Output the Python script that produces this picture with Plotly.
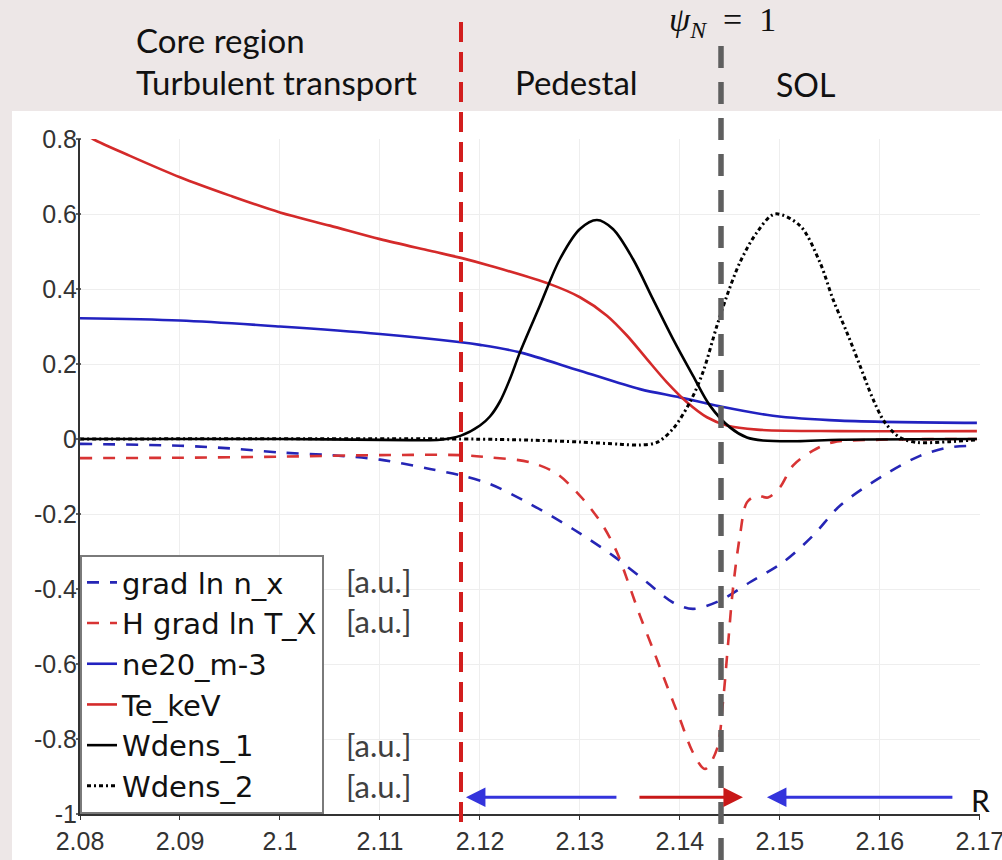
import plotly.graph_objects as go

# ---------------- data ----------------
x_grad_n = [2.080, 2.090, 2.095, 2.100, 2.105, 2.110, 2.115, 2.1181, 2.121, 2.125,
            2.1293, 2.1333, 2.1367, 2.1393, 2.1413, 2.1440, 2.1470, 2.1503, 2.1533,
            2.1560, 2.1603, 2.1640, 2.1670, 2.1697]
grad_ln_n = [-0.013, -0.018, -0.025, -0.036, -0.043, -0.055, -0.080, -0.097, -0.120, -0.173,
             -0.240, -0.311, -0.382, -0.436, -0.453, -0.431, -0.382, -0.329, -0.258,
             -0.178, -0.098, -0.045, -0.022, -0.018]

x_grad_T = [2.080, 2.090, 2.100, 2.110, 2.1181, 2.121, 2.125, 2.1277, 2.1303, 2.1323,
            2.1337, 2.1347, 2.1360, 2.1373, 2.1387, 2.1400, 2.1413, 2.1425, 2.1437,
            2.1443, 2.1448, 2.1453, 2.1460, 2.1467, 2.1477, 2.1488, 2.1500, 2.1513,
            2.1533, 2.1553, 2.1600, 2.1697]
h_grad_ln_T = [-0.051, -0.050, -0.047, -0.043, -0.043, -0.049, -0.062, -0.093, -0.160, -0.231,
               -0.302, -0.373, -0.471, -0.560, -0.658, -0.747, -0.836, -0.880, -0.827,
               -0.702, -0.551, -0.400, -0.258, -0.169, -0.151, -0.156, -0.129, -0.071,
               -0.031, -0.009, -0.002, 0.000]

x_ne = [2.080, 2.090, 2.100, 2.110, 2.1181, 2.120, 2.124, 2.130, 2.136, 2.140,
        2.144, 2.1493, 2.156, 2.1697]
ne20 = [0.322, 0.316, 0.300, 0.280, 0.258, 0.251, 0.231, 0.182, 0.133, 0.111,
        0.087, 0.062, 0.049, 0.043]

x_te = [2.080, 2.0813, 2.085, 2.090, 2.095, 2.100, 2.105, 2.110, 2.115, 2.1181,
        2.121, 2.127, 2.130, 2.1327, 2.1347, 2.1367, 2.1387, 2.1407, 2.1427, 2.1447,
        2.1477, 2.156, 2.1697]
te_keV = [0.822, 0.800, 0.755, 0.698, 0.649, 0.604, 0.569, 0.533, 0.502, 0.483,
          0.462, 0.413, 0.378, 0.329, 0.276, 0.213, 0.151, 0.098, 0.058, 0.036,
          0.025, 0.021, 0.021]

x_w1 = [2.080, 2.100, 2.113, 2.116, 2.1181, 2.120, 2.121, 2.122, 2.123, 2.124, 2.126, 2.128,
        2.130, 2.1317, 2.1333, 2.1353, 2.1373, 2.1393, 2.1413, 2.1430, 2.1450, 2.1467,
        2.1483, 2.1517, 2.156, 2.1697]
wdens_1 = [0.000, 0.000, -0.003, -0.002, 0.009, 0.036, 0.060, 0.100, 0.160, 0.231, 0.356, 0.480,
           0.560, 0.584, 0.560, 0.480, 0.373, 0.267, 0.169, 0.089, 0.031, 0.004,
           -0.004, -0.006, -0.002, 0.000]

x_w2 = [2.080, 2.1181, 2.125, 2.130, 2.134, 2.136, 2.1377, 2.1393, 2.1410, 2.1423,
        2.1437, 2.1447, 2.1460, 2.1477, 2.1495, 2.1520, 2.1540, 2.1553, 2.1567, 2.1580,
        2.1593, 2.1605, 2.1620, 2.1637, 2.1670, 2.1697]
wdens_2 = [0.000, 0.000, -0.003, -0.008, -0.014, -0.016, -0.009, 0.027, 0.098, 0.178,
           0.302, 0.382, 0.471, 0.551, 0.600, 0.569, 0.471, 0.373, 0.284, 0.196,
           0.107, 0.044, 0.004, -0.009, -0.007, -0.002]

x_ticks = [2.08, 2.09, 2.10, 2.11, 2.12, 2.13, 2.14, 2.15, 2.16, 2.17]
x_tick_text = ["2.08", "2.09", "2.1", "2.11", "2.12", "2.13", "2.14", "2.15", "2.16", "2.17"]
y_ticks = [0.8, 0.6, 0.4, 0.2, 0, -0.2, -0.4, -0.6, -0.8, -1]
y_tick_text = ["0.8", "0.6", "0.4", "0.2", "0", "-0.2", "-0.4", "-0.6", "-0.8", "-1"]

pedestal_top_R = 2.1181   # red dashed boundary
separatrix_R = 2.1441     # psi_N = 1
arrow_y = -0.955
arrows = [  # (tail, head, colour)
    (2.1338, 2.1186, "#3434DC"),
    (2.1358, 2.1463, "#C81818"),
    (2.1674, 2.1487, "#3434DC"),
]

# ---------------- layout geometry ----------------
X_MIN, X_MAX = 2.08, 2.17
Y_MIN, Y_MAX = -1.0, 0.8
W, H = 1002, 860
ML, MR, MT, MB = 80, 22, 139, 46
PW, PH = W - ML - MR, H - MT - MB


def px(xpix):
    return (xpix - ML) / PW


def py(ypix):
    return (H - MB - ypix) / PH


def dx(v):
    return (v - X_MIN) / (X_MAX - X_MIN)


fig = go.Figure()

series = [
    ("grad ln n_x", x_grad_n, grad_ln_n, dict(color="#2525B5", width=2.6, dash="12px,11px")),
    ("H grad ln T_X", x_grad_T, h_grad_ln_T, dict(color="#D83434", width=2.6, dash="12px,11px")),
    ("ne20_m-3", x_ne, ne20, dict(color="#2222C0", width=2.6)),
    ("Te_keV", x_te, te_keV, dict(color="#D42A2A", width=2.6)),
    ("Wdens_1", x_w1, wdens_1, dict(color="#000000", width=2.6)),
    ("Wdens_2", x_w2, wdens_2, dict(color="#000000", width=3, dash="4px,3px,2px,3px")),
]
for i, (name, xs, ys, ln) in enumerate(series):
    ln = dict(ln, shape="spline", smoothing=0.9)
    fig.add_trace(go.Scatter(x=xs, y=ys, mode="lines", name=name, line=ln,
                             legendgroup="g%d" % i, hoverinfo="skip"))

shapes = [
    # white panel behind the plot
    dict(type="rect", xref="paper", yref="paper", x0=px(12), x1=px(1010), y0=py(870), y1=py(111),
         fillcolor="white", line=dict(width=0), layer="below"),
    # pedestal-top boundary
    dict(type="line", xref="paper", yref="paper", x0=dx(pedestal_top_R), x1=dx(pedestal_top_R),
         y0=py(22), y1=py(828), line=dict(color="#D21E1E", width=4, dash="20px,10px"), layer="above"),
    # separatrix
    dict(type="line", xref="paper", yref="paper", x0=dx(separatrix_R), x1=dx(separatrix_R),
         y0=py(46), y1=py(862), line=dict(color="#5F5F5F", width=5.5, dash="22px,14px"), layer="above"),
]
# small outside tick marks on the y axis
for v in y_ticks:
    yy = (v - Y_MIN) / (Y_MAX - Y_MIN)
    shapes.append(dict(type="line", xref="paper", yref="paper", x0=px(76), x1=px(81), y0=yy, y1=yy,
                       line=dict(color="#333333", width=1.5), layer="above"))

hdr = dict(family="Lato", size=33, color="#111111")
annos = [
    dict(text="Core region", x=px(134), y=py(40), xanchor="left", yanchor="middle", font=hdr),
    dict(text="Turbulent transport", x=px(134), y=py(82), xanchor="left", yanchor="middle", font=hdr),
    dict(text="Pedestal", x=px(513), y=py(82), xanchor="left", yanchor="middle", font=hdr),
    dict(text="SOL", x=px(774), y=py(85), xanchor="left", yanchor="middle", font=dict(hdr, size=32)),
    dict(text="<i>ψ</i><sub><i>N</i></sub>\u2002=\u20021", x=px(667), y=py(22), xanchor="left",
         yanchor="middle", font=dict(family="Liberation Serif", size=34, color="#111111")),
    dict(text="R", x=px(980), y=py(800), xanchor="center", yanchor="middle",
         font=dict(family="Lato", size=30, color="#111111")),
]
au_font = dict(family="Lato", size=31, color="#404040")
for yy in (581, 621, 745, 786):
    annos.append(dict(text="[a.u.]", x=px(344), y=py(yy), xanchor="left", yanchor="middle", font=au_font))
for a in annos:
    a.update(xref="paper", yref="paper", showarrow=False)

for tail, head, col in arrows:
    annos.append(dict(x=head, y=arrow_y, ax=tail, ay=arrow_y, xref="x", yref="y", axref="x", ayref="y",
                      text="", showarrow=True, arrowhead=2, arrowsize=1.3, arrowwidth=3,
                      arrowcolor=col))

tickfont = dict(family="Liberation Sans", size=25, color="#333333")
fig.update_layout(
    width=W, height=H, autosize=False,
    margin=dict(l=ML, r=MR, t=MT, b=MB, pad=0, autoexpand=False),
    paper_bgcolor="#EDE7E7", plot_bgcolor="white",
    font=dict(family="Liberation Sans", size=22, color="#333333"),
    showlegend=True,
    legend=dict(x=0, y=0, xanchor="left", yanchor="bottom", bgcolor="white",
                bordercolor="#7A7A7A", borderwidth=2, tracegroupgap=0, itemwidth=30,
                font=dict(family="DejaVu Sans", size=29, color="#111111"),
                traceorder="grouped"),
    shapes=shapes, annotations=annos,
    xaxis=dict(range=[X_MIN, X_MAX + 1e-5], tickmode="array", tickvals=x_ticks, ticktext=x_tick_text,
               showgrid=True, gridcolor="#EEEEEE", gridwidth=1, zeroline=False, automargin=False,
               showline=True, linecolor="#333333", linewidth=2, ticks="outside", ticklen=4,
               tickcolor="#333333", tickfont=tickfont, ticklabeloverflow="allow"),
    yaxis=dict(range=[Y_MIN, Y_MAX], tickmode="array", tickvals=y_ticks, ticktext=y_tick_text,
               showgrid=True, gridcolor="#EEEEEE", gridwidth=1, zeroline=False, automargin=False,
               showline=True, linecolor="#333333", linewidth=2, ticks="",
               tickfont=tickfont, ticklabelstandoff=-4),
)

fig.write_html("out.html", config={"displayModeBar": False},
               post_script="document.body.style.margin='0px';")
